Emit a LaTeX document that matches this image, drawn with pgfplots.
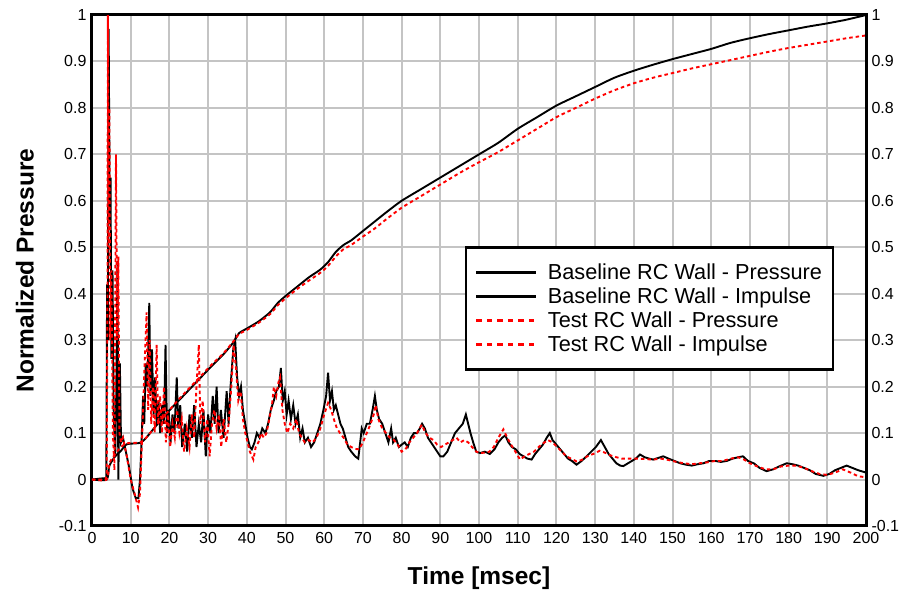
\documentclass[border=0pt]{standalone}
\usepackage{fontspec}
\setmainfont{Liberation Sans}
\usepackage{pgfplots}
\pgfplotsset{compat=1.18}
\definecolor{gridgray}{RGB}{196,196,196}
\begin{document}
\begin{tikzpicture}
\begin{axis}[
  name=ax,
  scale only axis,
  width=774pt, height=511pt,
  xmin=0, xmax=200, ymin=-0.1, ymax=1,
  xtick={0,10,...,200},
  ytick={-0.1,0,0.1,0.2,0.3,0.4,0.5,0.6,0.7,0.8,0.9,1},
  yticklabels={-0.1,0,0.1,0.2,0.3,0.4,0.5,0.6,0.7,0.8,0.9,1},
  xticklabels={0,10,20,30,40,50,60,70,80,90,100,110,120,130,140,150,160,170,180,190,200},
  major tick length=0pt,
  grid=major,
  major grid style={draw=gridgray, line width=2pt},
  axis line style={line width=3pt, black},
  tick label style={font=\fontsize{16}{18}\selectfont},
  xticklabel style={yshift=-3pt},
  yticklabel style={xshift=-2pt},
  every axis y label/.style={at={(axis description cs:-0.0866,0.5)}, rotate=90, anchor=center},
  every axis x label/.style={at={(axis description cs:0.5,0)}, anchor=center, yshift=-52pt},
  ylabel={\fontsize{24.5}{26}\selectfont\bfseries Normalized Pressure},
  xlabel={\fontsize{24.5}{26}\selectfont\bfseries Time [msec]},
  legend style={at={(axis cs:96.3,0.502)}, anchor=north west, draw=black, line width=2.5pt,
    font=\fontsize{21.7}{23}\selectfont, inner xsep=9pt, inner ysep=14pt, row sep=3pt,
    legend cell align=left, fill=white},
  legend image code/.code={\draw[#1] (0pt,0pt) -- (60pt,0pt); \path (68pt,0pt);},
]
% Baseline pressure
\addplot[black, line width=1.9pt, forget plot] coordinates {
(0,0)(2,0.002)(3.5,0.003)(3.7,0.005)(3.9,0.42)(4.1,0.3)(4.3,0.97)(4.6,0.55)(4.8,0.65)(5.0,0.26)(5.3,0.45)(5.6,0.15)(6.0,0.05)(6.3,0.2)(6.6,0.47)(6.8,0.0)(7.2,0.25)(7.5,0.08)(8.0,0.09)(8.5,0.07)(9.5,0.03)(10.5,-0.02)(11.3,-0.04)(12.0,-0.04)(12.4,0.0)(12.8,0.08)(13.2,0.18)(13.5,0.12)(13.9,0.25)(14.3,0.2)(14.8,0.38)(15.1,0.18)(15.5,0.28)(15.9,0.14)(16.3,0.22)(16.7,0.12)(17.2,0.17)(17.6,0.1)(18.1,0.16)(18.6,0.12)(19.0,0.29)(19.4,0.1)(19.8,0.15)(20.3,0.08)(20.8,0.14)(21.3,0.1)(21.9,0.22)(22.3,0.11)(22.8,0.16)(23.3,0.07)(24,0.12)(24.6,0.06)(25.2,0.14)(25.8,0.09)(26.4,0.16)(27,0.07)(27.6,0.12)(28.2,0.08)(28.8,0.15)(29.4,0.05)(30,0.14)(30.6,0.1)(31.2,0.18)(31.7,0.12)(32.2,0.2)(32.7,0.1)(33.3,0.15)(34,0.09)(34.8,0.19)(35.3,0.12)(35.8,0.2)(36.5,0.28)(37,0.3)(37.5,0.22)(38,0.18)(38.5,0.2)(39,0.15)(39.6,0.12)(40.2,0.09)(40.8,0.07)(41.3,0.065)(42,0.08)(42.6,0.1)(43.3,0.09)(44,0.11)(44.8,0.1)(45.5,0.12)(46.2,0.15)(47,0.17)(47.6,0.19)(48.3,0.2)(48.8,0.24)(49.3,0.17)(49.8,0.19)(50.3,0.14)(50.8,0.17)(51.4,0.13)(52,0.16)(52.6,0.12)(53.2,0.14)(53.8,0.09)(54.4,0.11)(55,0.08)(55.8,0.09)(56.6,0.07)(57.4,0.08)(58.2,0.1)(59,0.12)(59.8,0.15)(60.5,0.18)(61,0.23)(61.5,0.17)(62,0.19)(62.5,0.15)(63,0.16)(63.6,0.14)(64.2,0.12)(64.8,0.11)(65.5,0.09)(66.2,0.07)(67,0.06)(68,0.05)(68.8,0.045)(69.3,0.08)(69.7,0.11)(70.2,0.1)(71,0.12)(71.8,0.12)(72.5,0.15)(73.1,0.18)(73.6,0.15)(74.2,0.13)(75,0.12)(75.8,0.1)(76.6,0.08)(77.3,0.11)(77.8,0.08)(78.5,0.09)(79.3,0.07)(80,0.075)(80.8,0.08)(81.6,0.07)(82.4,0.09)(83.2,0.1)(84,0.1)(84.7,0.11)(85.3,0.12)(86,0.11)(86.8,0.09)(87.6,0.08)(88.4,0.07)(89.2,0.06)(90,0.05)(90.8,0.05)(91.8,0.06)(92.8,0.08)(93.8,0.1)(94.8,0.11)(95.8,0.12)(96.6,0.14)(97.2,0.12)(97.8,0.1)(98.5,0.08)(99.3,0.06)(100.3,0.057)(101.5,0.06)(102.8,0.055)(104,0.065)(105,0.08)(106,0.09)(106.8,0.095)(107.6,0.08)(108.5,0.07)(109.5,0.065)(110.5,0.055)(111.5,0.05)(112.5,0.045)(113.6,0.043)(114.5,0.055)(115.5,0.065)(116.5,0.075)(117.5,0.09)(118.3,0.1)(119,0.085)(120,0.075)(121,0.065)(122,0.055)(123,0.045)(124,0.04)(125.2,0.032)(126.5,0.04)(127.8,0.05)(129,0.06)(130.2,0.07)(131.5,0.085)(132.5,0.07)(133.5,0.055)(134.5,0.045)(135.5,0.035)(136.5,0.03)(137.3,0.029)(138.5,0.035)(139.5,0.04)(140.5,0.045)(141.6,0.054)(142.8,0.048)(144,0.045)(145,0.043)(146.5,0.047)(147.6,0.05)(149,0.045)(150.5,0.04)(152,0.035)(153.5,0.032)(155,0.03)(156.5,0.033)(158,0.035)(159.5,0.04)(161,0.04)(162.5,0.038)(164,0.04)(165.5,0.045)(167,0.048)(168.2,0.05)(169.5,0.04)(171,0.035)(172.5,0.025)(174.3,0.018)(176,0.022)(177.5,0.028)(179.5,0.035)(181,0.033)(182.5,0.03)(184,0.025)(185.5,0.02)(187,0.012)(189,0.008)(190.5,0.012)(192,0.02)(193.5,0.025)(195,0.03)(196.5,0.025)(198,0.02)(200,0.015)
};
% Baseline impulse
\addplot[black, line width=1.9pt, smooth, tension=0.4, forget plot] coordinates {
(0,0)(3.8,0)(4.5,0.03)(6,0.05)(7.5,0.062)(9,0.076)(12.5,0.079)(14,0.09)(16,0.11)(19,0.14)(23,0.175)(27,0.21)(31,0.245)(34,0.27)(36.5,0.295)(38,0.315)(40,0.325)(43,0.34)(46,0.36)(48,0.38)(50,0.395)(53,0.415)(56,0.435)(59,0.452)(61,0.468)(63,0.49)(65,0.505)(67,0.515)(70,0.535)(73,0.555)(76,0.575)(80,0.6)(85,0.625)(90,0.65)(95,0.675)(100,0.7)(105,0.725)(110,0.755)(115,0.78)(120,0.805)(125,0.825)(130,0.845)(135,0.865)(140,0.88)(145,0.893)(150,0.905)(155,0.916)(160,0.927)(165,0.94)(170,0.95)(175,0.959)(180,0.967)(185,0.975)(190,0.982)(195,0.99)(200,1.0)
};
% Test pressure
\addplot[red, line width=1.9pt, dash pattern=on 3.5pt off 3pt, forget plot] coordinates {
(0,0)(3.5,0.0)(3.8,0.01)(4.0,0.4)(4.1,1.0)(4.3,0.5)(4.5,0.8)(4.7,0.3)(5.0,0.45)(5.4,0.1)(5.8,0.02)(6.2,0.7)(6.5,0.3)(6.8,0.48)(7.1,0.1)(7.5,0.08)(8,0.09)(9,0.05)(10,0.0)(11,-0.03)(11.9,-0.06)(12.4,-0.03)(12.8,0.06)(13.2,0.15)(13.6,0.25)(14.1,0.36)(14.5,0.15)(14.9,0.3)(15.3,0.12)(15.8,0.2)(16.2,0.1)(16.7,0.29)(17.1,0.12)(17.6,0.18)(18.1,0.1)(18.6,0.2)(19.1,0.08)(19.6,0.14)(20.2,0.07)(20.8,0.12)(21.4,0.09)(22,0.15)(22.6,0.1)(23.2,0.13)(23.8,0.06)(24.5,0.11)(25.2,0.07)(25.8,0.14)(26.4,0.09)(27,0.2)(27.6,0.29)(28,0.12)(28.6,0.17)(29.2,0.08)(29.8,0.13)(30.4,0.05)(31,0.12)(31.6,0.15)(32.2,0.11)(32.8,0.14)(33.4,0.07)(34,0.13)(34.7,0.08)(35.3,0.12)(36,0.2)(36.6,0.29)(37.2,0.24)(37.8,0.17)(38.4,0.19)(39,0.13)(39.6,0.1)(40.2,0.08)(40.8,0.06)(41.7,0.043)(42.3,0.07)(43,0.08)(43.7,0.1)(44.4,0.09)(45.1,0.1)(45.8,0.13)(46.5,0.16)(47,0.2)(47.6,0.18)(48.2,0.21)(48.6,0.22)(49.2,0.15)(49.8,0.12)(50.5,0.1)(51.2,0.12)(52,0.11)(52.8,0.13)(53.5,0.1)(54.2,0.09)(55,0.08)(56,0.085)(57,0.08)(58,0.09)(59,0.11)(60,0.14)(61,0.165)(61.8,0.15)(62.5,0.13)(63.3,0.11)(64.1,0.1)(65,0.09)(66,0.075)(67,0.07)(68,0.066)(69,0.065)(70,0.08)(71,0.1)(72,0.12)(72.8,0.14)(73.3,0.16)(74,0.13)(75,0.11)(76,0.1)(77,0.09)(78,0.085)(79,0.075)(80,0.06)(81,0.065)(82,0.08)(83,0.09)(84,0.1)(85.2,0.118)(86.2,0.1)(87.2,0.09)(88.2,0.085)(89.2,0.075)(90.2,0.07)(91.2,0.075)(92.2,0.08)(93.2,0.085)(94.2,0.09)(95.2,0.08)(96.2,0.085)(97.2,0.08)(98.2,0.07)(99.3,0.06)(100.3,0.057)(101.5,0.058)(102.7,0.06)(103.8,0.07)(105,0.09)(106.3,0.108)(107.3,0.09)(108.3,0.075)(109.4,0.06)(110.6,0.043)(111.8,0.05)(113,0.055)(114.2,0.06)(115.4,0.07)(116.6,0.078)(117.8,0.085)(119,0.08)(120.2,0.07)(121.4,0.06)(122.6,0.05)(123.8,0.045)(125.2,0.039)(126.5,0.042)(128,0.05)(129.5,0.055)(131.2,0.062)(132.5,0.058)(134,0.052)(135.5,0.048)(137,0.045)(139,0.045)(141,0.045)(143,0.044)(145,0.043)(147,0.045)(149,0.042)(151,0.038)(153,0.035)(155,0.033)(157,0.035)(159,0.037)(161,0.04)(163,0.04)(165,0.045)(167,0.048)(168.5,0.043)(170,0.035)(172,0.028)(174,0.022)(176,0.022)(178,0.028)(180,0.03)(182,0.03)(184,0.025)(186,0.018)(188,0.012)(190,0.01)(192,0.015)(194,0.022)(196,0.015)(198,0.007)(200,0.005)
};
% Test impulse
\addplot[red, line width=1.9pt, dash pattern=on 3.5pt off 3pt, smooth, tension=0.4, forget plot] coordinates {
(0,0)(3.8,0)(4.5,0.035)(6,0.055)(7.5,0.07)(9,0.078)(12.5,0.08)(14,0.09)(16,0.11)(19,0.14)(23,0.178)(27,0.213)(31,0.248)(34,0.272)(36.5,0.297)(38,0.313)(40,0.322)(43,0.337)(46,0.356)(48,0.375)(50,0.39)(53,0.41)(56,0.428)(59,0.445)(61,0.46)(63,0.48)(65,0.496)(67,0.505)(70,0.523)(73,0.54)(76,0.56)(80,0.585)(85,0.61)(90,0.635)(95,0.66)(100,0.683)(105,0.705)(110,0.73)(115,0.755)(120,0.78)(125,0.8)(130,0.82)(135,0.838)(140,0.853)(145,0.865)(150,0.875)(155,0.885)(160,0.894)(165,0.903)(170,0.912)(175,0.921)(180,0.929)(185,0.936)(190,0.943)(195,0.95)(200,0.956)
};
\addlegendimage{black, line width=3pt}
\addlegendentry{Baseline RC Wall - Pressure}
\addlegendimage{black, line width=3pt}
\addlegendentry{Baseline RC Wall - Impulse}
\addlegendimage{red, line width=3pt, dash pattern=on 5.5pt off 5pt}
\addlegendentry{Test RC Wall - Pressure}
\addlegendimage{red, line width=3pt, dash pattern=on 5.5pt off 5pt}
\addlegendentry{Test RC Wall - Impulse}
\end{axis}
\begin{axis}[
  scale only axis,
  width=774pt, height=511pt,
  xmin=0, xmax=200, ymin=-0.1, ymax=1,
  axis x line=none,
  axis y line*=right,
  axis line style={line width=3pt, black, -},
  major tick length=0pt,
  ytick={-0.1,0,0.1,0.2,0.3,0.4,0.5,0.6,0.7,0.8,0.9,1},
  yticklabels={-0.1,0,0.1,0.2,0.3,0.4,0.5,0.6,0.7,0.8,0.9,1},
  tick label style={font=\fontsize{16}{18}\selectfont},
  yticklabel style={xshift=2pt},
]
\end{axis}
\pgfresetboundingbox
\path (ax.south west) ++(-92pt,-65pt) rectangle ++(908pt,591pt);
\end{tikzpicture}
\end{document}
